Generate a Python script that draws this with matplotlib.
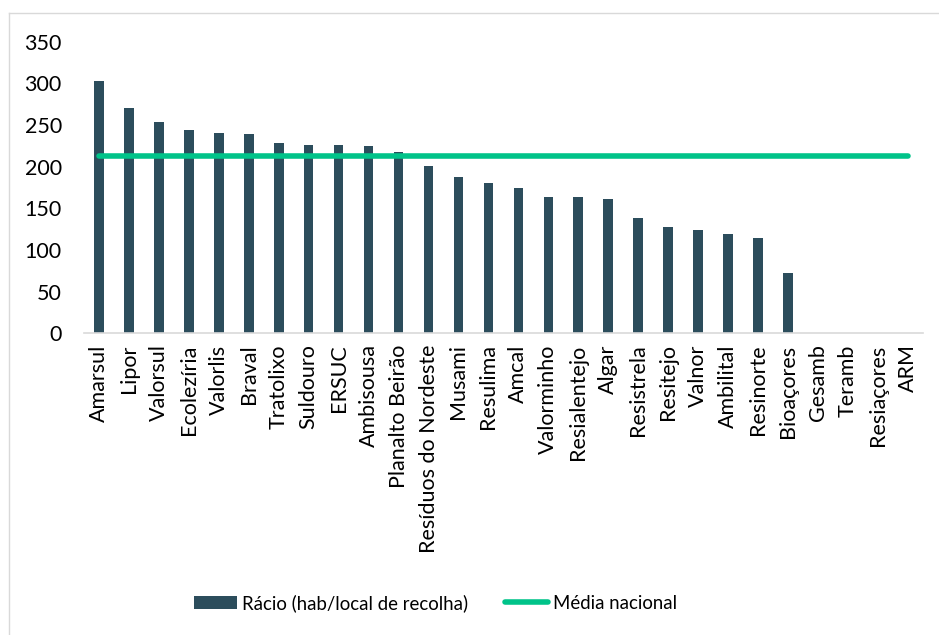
import matplotlib.pyplot as plt
import numpy as np
from matplotlib.lines import Line2D

plt.rcParams['font.family'] = ['Lato', 'DejaVu Sans']

# data
sistemas = ['Amarsul', 'Lipor', 'Valorsul', 'Ecolezíria', 'Valorlis', 'Braval',
            'Tratolixo', 'Suldouro', 'ERSUC', 'Ambisousa', 'Planalto Beirão',
            'Resíduos do Nordeste', 'Musami', 'Resulima', 'Amcal', 'Valorminho',
            'Resialentejo', 'Algar', 'Resistrela', 'Resitejo', 'Valnor',
            'Ambilital', 'Resinorte', 'Bioaçores', 'Gesamb', 'Teramb',
            'Resiaçores', 'ARM']
racio = [303, 271, 254, 244, 240, 239, 229, 226, 226, 225, 218, 201, 188,
         180, 175, 164, 164, 161, 139, 128, 124, 119, 114, 72, 0, 0, 0, 0]
media_nacional = 213

bar_color = '#2c4d5c'
line_color = '#00c389'

fig = plt.figure(figsize=(9.39, 6.35), dpi=100)
ax = fig.add_axes([0.0895, 0.4751, 0.8932, 0.4592])

x = np.arange(len(sistemas))
bars = ax.bar(x, racio, width=0.32, color=bar_color, zorder=2)
line, = ax.plot(x, [media_nacional] * len(x), color=line_color, lw=4,
                solid_capstyle='round', zorder=3)

ax.set_xlim(-0.5, len(x) - 0.5)
ax.set_ylim(0, 350)
ax.set_yticks(np.arange(0, 351, 50))
ax.set_xticks(x)
ax.set_xticklabels(sistemas, rotation=90, fontsize=15.5)
ax.tick_params(axis='y', labelsize=15.5, length=0, pad=16)
ax.tick_params(axis='x', length=0, pad=8)

for s in ['top', 'right', 'left']:
    ax.spines[s].set_visible(False)
ax.spines['bottom'].set_color('#d9d9d9')
ax.spines['bottom'].set_linewidth(1.2)

fig.legend([bars, line], ['Rácio (hab/local de recolha)', 'Média nacional'],
           loc='center', bbox_to_anchor=(0.464, 0.0504), ncol=2,
           frameon=False, fontsize=13.4, handlelength=2.3,
           handletextpad=0.27, columnspacing=2.0)

# light chart border
fig.add_artist(Line2D([8.5 / 939, 8.5 / 939], [0, 1 - 12.5 / 635], color='#d9d9d9', lw=1))
fig.add_artist(Line2D([8.5 / 939, 1], [1 - 12.5 / 635, 1 - 12.5 / 635], color='#d9d9d9', lw=1))

fig.savefig('out.png', dpi=100)
